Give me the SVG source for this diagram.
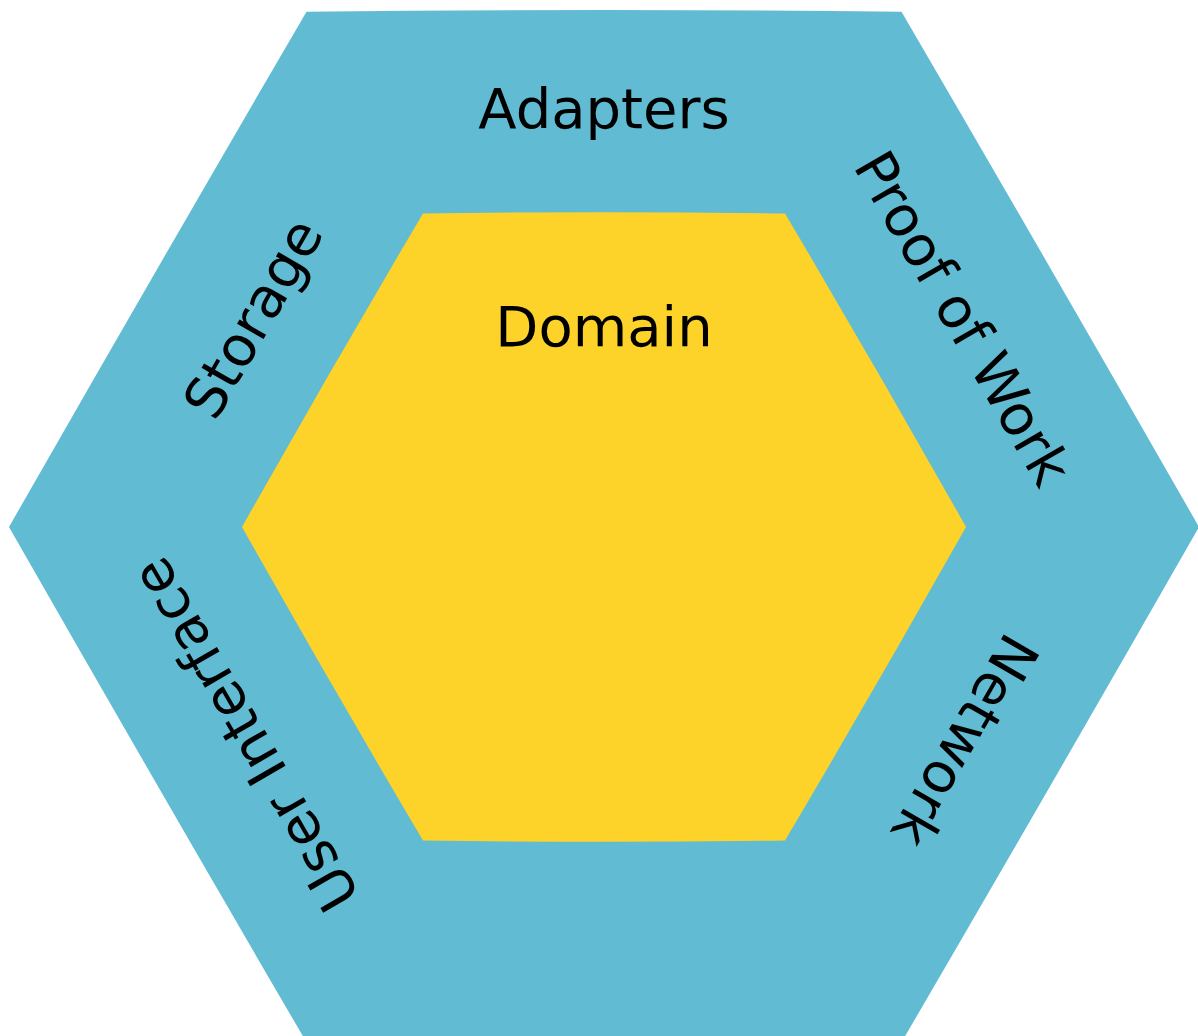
<svg xmlns="http://www.w3.org/2000/svg" width="1198" height="1036" viewBox="0 0 1198 1036">
  <style>
    .lbl { font-family: "DejaVu Sans", sans-serif; font-size: 56px; fill: #000000; text-anchor: middle; }
    .rot { font-size: 56px; }
    .outer { fill: #60bbd3; }
    .inner { fill: #fdd329; }
  </style>
  <rect width="1198" height="1036" fill="#ffffff"/>
  <g id="adapters">
    <path class="outer" d="M306.5,11.7 Q604,8.5 901.5,11.7 Q1051,268 1199,527 Q1051,786 901.5,1042.3 L306.5,1042.3 Q157,786 9,527 Q157,268 306.5,11.7 Z"/>
    <text class="lbl" x="604" y="128">Adapters</text>
    <text class="lbl rot" transform="translate(270,328) rotate(-60)">Storage</text>
    <text class="lbl rot" transform="translate(946,328) rotate(60)">Proof of Work</text>
    <text class="lbl rot" transform="translate(948,731) rotate(120)">Network</text>
    <text class="lbl rot" transform="translate(262,725) rotate(-120)">User Interface</text>
  </g>
  <g id="domain">
    <path class="inner" d="M423,213.5 Q604,211 785,213.5 Q877,369 966,527 Q877,685 785,840.5 Q604,843 423,840.5 Q331,685 242,527 Q331,369 423,213.5 Z"/>
    <text class="lbl" x="604" y="346">Domain</text>
  </g>
  <g id="connectors"/>
</svg>
